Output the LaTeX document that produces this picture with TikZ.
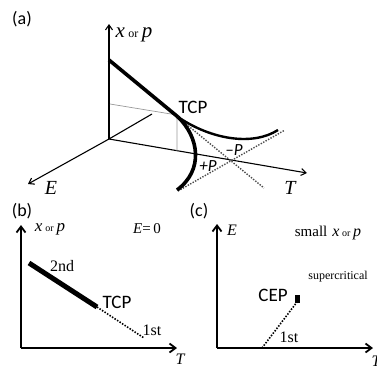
\documentclass[tikz,border=0pt]{standalone}
\usepackage{fontspec}
\setmainfont{Liberation Serif}
\setsansfont{Carlito}
\usetikzlibrary{arrows.meta}
\tikzset{
  axA/.style={line width=1.1pt,-{Straight Barb[length=5pt,width=7pt,line width=1.1pt]}},
  axB/.style={line width=2pt,-{Straight Barb[length=6pt,width=9pt,line width=1.8pt]}},
  dots/.style={line width=1.4pt,gray!60!black,dash pattern=on 1.4pt off 1.4pt},
  bdots/.style={line width=1.6pt,black,dash pattern=on 1.5pt off 1.5pt},
  thinline/.style={line width=0.7pt,gray!80},
  lbl/.style={inner sep=0pt,font=\sffamily\fontsize{19}{19}\selectfont},
  slbl/.style={inner sep=0pt,font=\fontsize{16}{16}\selectfont},
}
\newcommand{\xorp}[2]{{\fontsize{#1}{#1}\selectfont\textit{x}\,{\fontsize{#2}{#2}\selectfont or}\,\textit{p}}}
\begin{document}
\begin{tikzpicture}[x=1pt,y=-1pt]
\useasboundingbox (0,0) rectangle (377,367);
% ---------- (a)
\node[lbl,font=\sffamily\fontsize{18}{18}\selectfont] (la) at (22,19) {(a)};
\coordinate (O) at (109,139);
\coordinate (Ytop) at (109,24);
\coordinate (Etip) at (28,184);
\coordinate (Ttip) at (307,173);
\coordinate (Back) at (152,114);
\draw[axA] (O) -- (Ytop);
\draw[axA] (O) -- (Etip);
\draw[axA] (O) -- (Ttip);
\draw[line width=1.1pt] (O) -- (Back);
\node[inner sep=0pt] (xp) at (134,35) {\xorp{21}{12}};
\node[inner sep=0pt,font=\fontsize{20}{20}\selectfont\itshape] (Elab) at (51,188) {E};
\node[inner sep=0pt,font=\fontsize{20}{20}\selectfont\itshape] (Tlab) at (290,188) {T};
% thin guide lines
\coordinate (G1) at (110,104);
\coordinate (G2) at (177,115);
\coordinate (G3) at (177,151);
\draw[thinline] (G1) -- (G2) -- (G3);
% dotted
\coordinate (D1a) at (186,124);
\coordinate (D1b) at (264,188);
\coordinate (D2a) at (178,191);
\coordinate (D2b) at (285,130);
\draw[dots] (D1a) -- (D1b);
\draw[dots] (D2a) -- (D2b);
% thick curves
\coordinate (Top) at (109,60);
\coordinate (TCPp) at (178,117);
\coordinate (Bot) at (177,190);
\coordinate (Rend) at (278,130);
\draw[line width=3.6pt] (Top) -- (TCPp);
\draw[line width=3.6pt] (TCPp) .. controls (199,137) and (204,170) .. (Bot);
\draw[line width=2.4pt] (TCPp) .. controls (212,140) and (253,146) .. (Rend);
\node[lbl] (tcpa) at (193,107) {TCP};
\node[lbl,font=\sffamily\itshape\fontsize{17}{17}\selectfont] (mP) at (234,150) {\textendash P};
\node[lbl,font=\sffamily\itshape\fontsize{17}{17}\selectfont] (pP) at (208,166) {+P};
% ---------- (b)
\node[lbl,font=\sffamily\fontsize{18}{18}\selectfont] (lb) at (22,211) {(b)};
\coordinate (Ob) at (21,348);
\coordinate (Ybt) at (21,225);
\coordinate (Xbt) at (177,348);
\draw[axB] (Ob) -- (Ybt);
\draw[axB] (Ob) -- (Xbt);
\node[inner sep=0pt] (xpb) at (50,229) {\xorp{17}{10}};
\node[inner sep=0pt,font=\fontsize{15}{15}\selectfont] (E0) at (147,229) {\textit{E}=\,0};
\coordinate (B1) at (29,263);
\coordinate (B2) at (97,307);
\coordinate (B3) at (144,338);
\draw[line width=5pt] (B1) -- (B2);
\draw[bdots] (B2) -- (B3);
\node[slbl] (nd) at (62,266) {2nd};
\node[lbl] (tcpb) at (117,302) {TCP};
\node[slbl] (st) at (152,330) {1st};
\node[inner sep=0pt,font=\fontsize{16}{16}\selectfont\itshape] (Tb) at (180,359) {T};
% ---------- (c)
\node[lbl,font=\sffamily\fontsize{18}{18}\selectfont] (lc) at (199,211) {(c)};
\coordinate (Oc) at (217,348);
\coordinate (Yct) at (217,224);
\coordinate (Xct) at (373,348);
\draw[axB] (Oc) -- (Yct);
\draw[axB] (Oc) -- (Xct);
\node[inner sep=0pt,font=\fontsize{16}{16}\selectfont\itshape] (Ec) at (232,230) {E};
\node[inner sep=0pt] (small) at (328,233) {{\fontsize{15}{15}\selectfont small}\ \ \xorp{16}{10}};
\node[inner sep=0pt,font=\fontsize{12}{12}\selectfont] (sup) at (338,277) {supercritical};
\coordinate (C1) at (262,348);
\coordinate (C2) at (297,302);
\draw[bdots] (C1) -- (C2);
\node[fill=black,minimum width=5pt,minimum height=8pt,inner sep=0pt] (sq) at (297.5,299) {};
\node[lbl] (cep) at (273,295) {CEP};
\node[slbl] (stc) at (289,337) {1st};
\node[inner sep=0pt,font=\fontsize{16}{16}\selectfont\itshape] (Tc) at (376,361) {T};
\end{tikzpicture}
\end{document}
